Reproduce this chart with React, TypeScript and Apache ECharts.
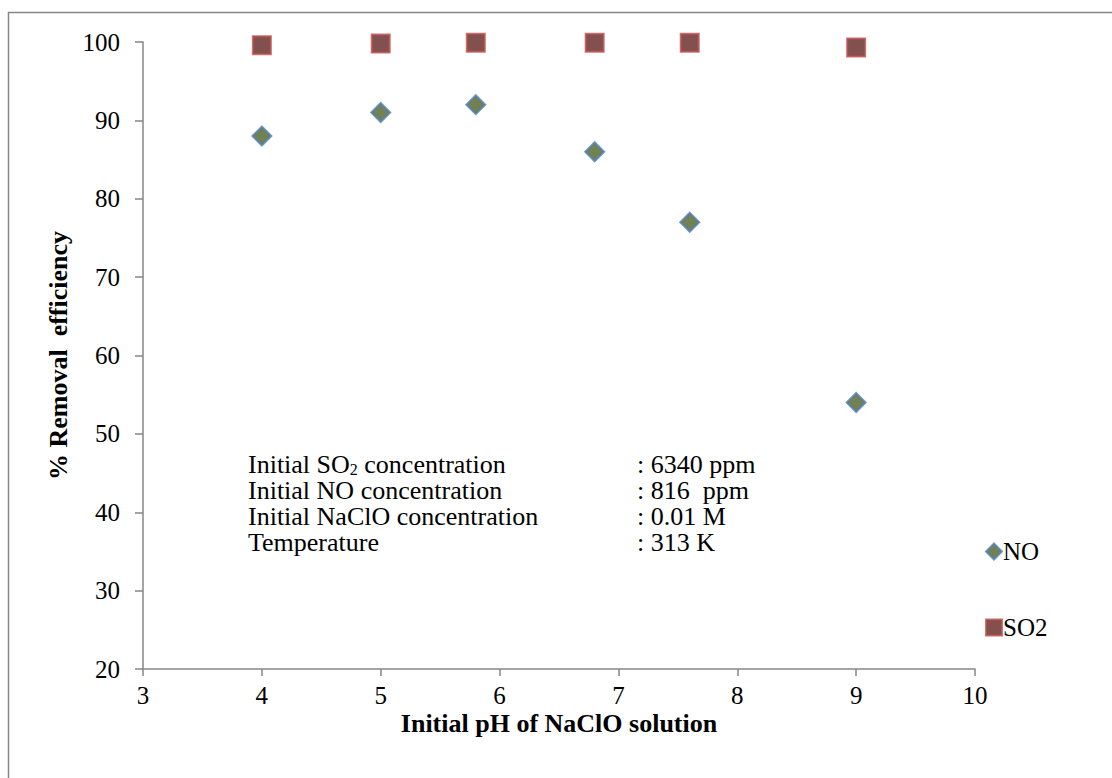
import React, { useEffect, useRef } from "react";
import * as echarts from "echarts";

const phValues = [4, 5, 5.8, 6.8, 7.6, 9];
const noRemoval = [88, 91, 92, 86, 77, 54];
const so2Removal = [99.6, 99.8, 99.9, 99.9, 99.9, 99.3];
const conditionLabels = [
  "Initial SO{sub|2} concentration",
  "Initial NO concentration",
  "Initial NaClO concentration",
  "Temperature",
];
const conditionValues = [": 6340 ppm", ": 816  ppm", ": 0.01 M", ": 313 K"];

const FONT = "'Liberation Serif', 'Times New Roman', serif";
const AXIS = "#868686";

export default function App() {
  const ref = useRef<HTMLDivElement>(null);
  useEffect(() => {
    if (!ref.current) return;
    const chart = echarts.init(ref.current, undefined, { renderer: "svg" });
    const graphics: any[] = [
      {
        type: "rect",
        shape: { x: 8.5, y: 12.5, width: 1300, height: 900 },
        style: { fill: "none", stroke: AXIS, lineWidth: 1.5 },
        silent: true,
      },
    ];
    conditionLabels.forEach((t, i) => {
      graphics.push({
        type: "text",
        x: 248,
        y: 464 + i * 26,
        style: {
          text: t,
          fontFamily: FONT,
          fontSize: 26,
          lineHeight: 22,
          fill: "#000",
          align: "left",
          verticalAlign: "middle",
          rich: {
            sub: { fontSize: 16, lineHeight: 14, fontFamily: FONT, padding: [11, 0, 0, 0] },
          },
        },
      });
      graphics.push({
        type: "text",
        x: 637,
        y: 464 + i * 26,
        style: {
          text: conditionValues[i],
          fontFamily: FONT,
          fontSize: 26,
          lineHeight: 22,
          fill: "#000",
          align: "left",
          verticalAlign: "middle",
        },
      });
    });
    chart.setOption({
      animation: false,
      grid: { left: 143, right: 137, top: 42, bottom: 109, containLabel: false },
      xAxis: {
        type: "value",
        min: 3,
        max: 10,
        interval: 1,
        name: "Initial pH of NaClO solution",
        nameLocation: "middle",
        nameGap: 42,
        nameMoveOverlap: false,
        nameTextStyle: { fontFamily: FONT, fontSize: 26, fontWeight: "bold", color: "#000", lineHeight: 24 },
        axisLine: { lineStyle: { color: AXIS, width: 1.5 } },
        axisTick: { show: true, inside: false, length: 7, lineStyle: { color: AXIS, width: 1.5 } },
        axisLabel: { fontFamily: FONT, fontSize: 25, color: "#000", margin: 15, lineHeight: 22 },
        splitLine: { show: false },
      },
      yAxis: {
        type: "value",
        min: 20,
        max: 100,
        interval: 10,
        name: "% Removal  efficiency",
        nameLocation: "middle",
        nameGap: 72,
        nameMoveOverlap: false,
        nameTextStyle: { fontFamily: FONT, fontSize: 26, fontWeight: "bold", color: "#000" },
        axisLine: { show: true, lineStyle: { color: AXIS, width: 1.5 } },
        axisTick: { show: true, inside: false, length: 8, lineStyle: { color: AXIS, width: 1.5 } },
        axisLabel: { fontFamily: FONT, fontSize: 25, color: "#000", margin: 23 },
        splitLine: { show: false },
      },
      legend: {
        orient: "vertical",
        left: 980,
        top: 534,
        itemGap: 51,
        itemWidth: 16,
        itemHeight: 16,
        textStyle: { fontFamily: FONT, fontSize: 25, color: "#000", padding: [0, 0, 0, -4] },
        data: ["NO", "SO2"],
      },
      graphic: graphics,
      series: [
        {
          name: "NO",
          type: "scatter",
          symbol: "diamond",
          symbolSize: 19,
          itemStyle: { color: "#4F6228", borderColor: "#4F81BD", borderWidth: 2 },
          data: phValues.map((x, i) => [x, noRemoval[i]]),
        },
        {
          name: "SO2",
          type: "scatter",
          symbol: "rect",
          symbolSize: 18,
          itemStyle: { color: "#632523", borderColor: "#C0504D", borderWidth: 2 },
          data: phValues.map((x, i) => [x, so2Removal[i]]),
        },
      ],
    });
    return () => chart.dispose();
  }, []);
  return (
    <div
      ref={ref}
      style={{ position: "absolute", left: 0, top: 0, width: 1112, height: 778, background: "#fff" }}
    />
  );
}
